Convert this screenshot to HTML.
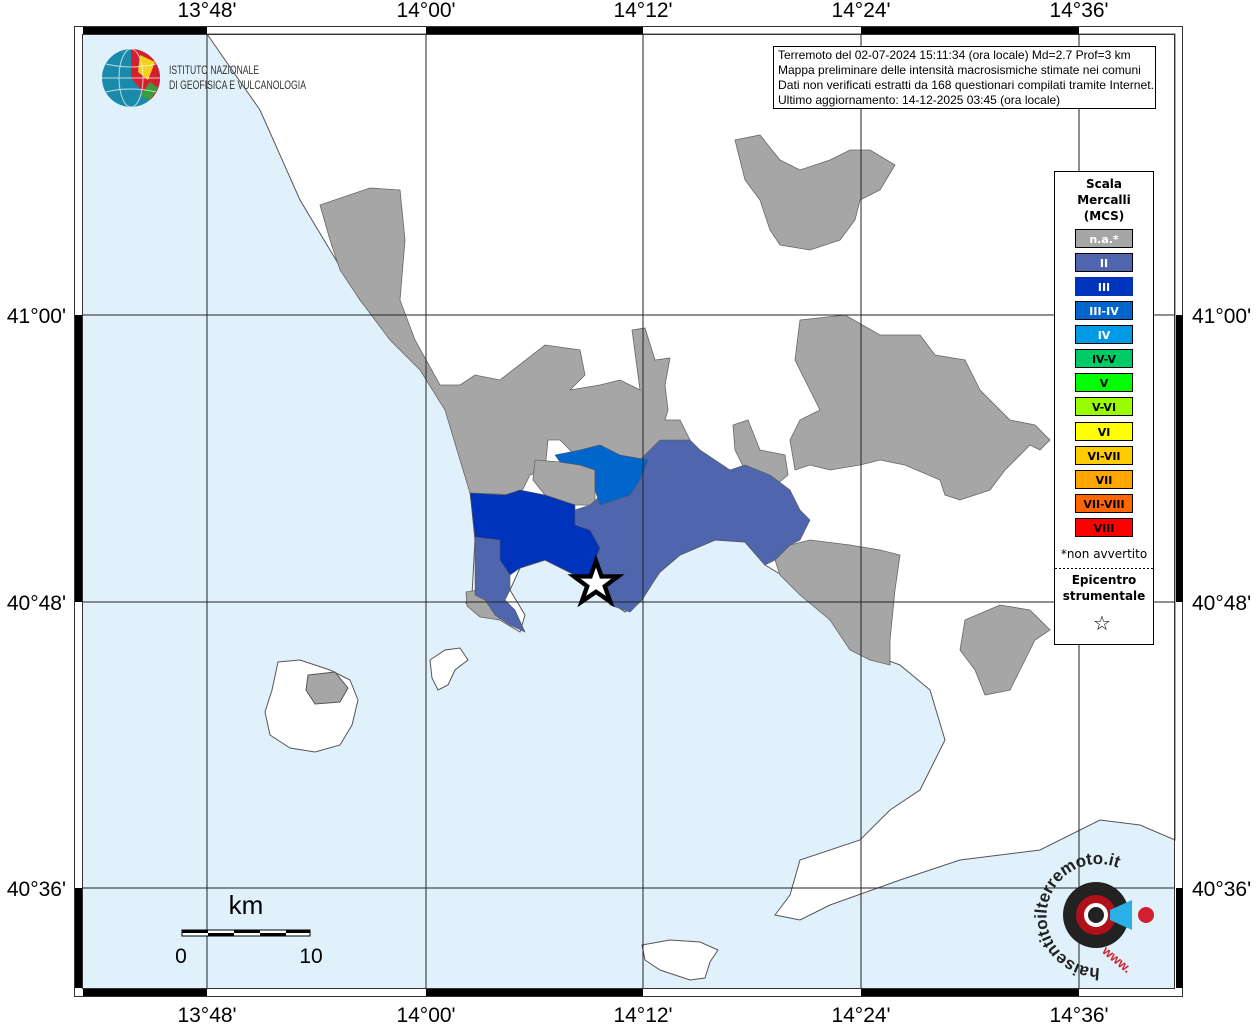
<!DOCTYPE html>
<html><head><meta charset="utf-8"><style>
body{margin:0;background:#fff;width:1256px;height:1024px;overflow:hidden;font-family:"Liberation Sans",sans-serif}
</style></head><body>
<svg width="1256" height="1024" viewBox="0 0 1256 1024" xmlns="http://www.w3.org/2000/svg" font-family="Liberation Sans, sans-serif">
<rect x="0" y="0" width="1256" height="1024" fill="#fff"/>
<rect x="82" y="34" width="1093" height="954" fill="#e0f1fc"/>
<path d="M207,34 L260,110 L300,200 L330,250 L360,300 L400,340 L440,390 L460,440 L470,490 L475,540 L472,595 L466,603 L480,615 L500,620 L520,632 L525,615 L510,590 L520,568 L545,560 L575,575 L595,580 L605,598 L625,612 L640,600 L660,572 L680,555 L715,540 L745,542 L765,565 L790,580 L800,590 L830,620 L860,650 L900,665 L930,690 L945,740 L920,790 L890,810 L860,840 L800,860 L790,895 L775,915 L800,920 L830,905 L900,880 L960,860 L1040,850 L1100,820 L1140,825 L1175,840 L1175,34 Z" fill="#fff" stroke="#555" stroke-width="1"/>
<path d="M278,662 L300,660 L330,670 L350,680 L358,700 L352,725 L340,745 L315,752 L290,748 L270,735 L265,712 L272,690 Z" fill="#fff" stroke="#555"/>
<path d="M308,675 L335,672 L348,688 L340,702 L315,704 L306,690 Z" fill="#a6a6a6" stroke="#555"/>
<path d="M430,660 L445,650 L460,648 L468,660 L455,670 L448,685 L438,690 L432,678 Z" fill="#fff" stroke="#555"/>
<path d="M642,945 L670,940 L700,942 L718,950 L710,962 L705,978 L690,980 L660,970 L645,960 Z" fill="#fff" stroke="#555"/>
<g fill="#a6a6a6" stroke="#666" stroke-width="0.8">
<path d="M320,205 L370,188 L400,190 L405,240 L400,300 L415,340 L440,385 L460,385 L475,375 L500,380 L545,345 L580,350 L585,375 L570,390 L600,385 L620,380 L640,390 L632,330 L645,328 L655,360 L670,358 L665,385 L668,410 L665,420 L680,420 L690,440 L650,460 L610,460 L575,455 L560,440 L548,440 L545,470 L530,475 L520,495 L470,493 L460,460 L445,410 L420,370 L390,340 L360,300 L340,270 L330,240 Z"/>
<path d="M800,320 L845,315 L880,335 L920,335 L935,355 L965,360 L980,390 L1010,420 L1035,425 L1050,440 L1040,450 L1030,445 L1005,470 L990,490 L960,500 L945,495 L940,480 L905,465 L880,460 L860,465 L830,470 L810,465 L795,470 L790,440 L800,420 L820,410 L810,390 L795,360 Z"/>
<path d="M735,140 L760,135 L780,160 L800,170 L830,160 L850,150 L870,150 L895,165 L880,190 L860,200 L855,220 L840,240 L810,250 L780,245 L770,230 L760,200 L745,180 Z"/>
<path d="M965,620 L1000,605 L1030,610 L1050,630 L1035,640 L1020,670 L1010,690 L985,695 L975,670 L960,650 Z"/>
<path d="M790,545 L810,540 L850,545 L880,550 L900,555 L895,590 L890,640 L890,665 L870,660 L850,650 L830,620 L800,595 L780,575 L775,560 Z"/>
<path d="M733,425 L748,420 L760,450 L785,455 L788,475 L770,490 L745,470 L735,450 Z"/>
<path d="M535,460 L560,462 L580,465 L595,470 L595,505 L575,505 L545,495 L533,480 Z"/>
<path d="M466,592 L478,590 L495,605 L500,620 L480,617 L467,606 Z"/>
</g>
<path d="M590,505 L640,460 L660,440 L690,440 L700,450 L715,460 L730,470 L745,465 L770,475 L790,490 L800,510 L810,520 L800,540 L790,545 L775,560 L765,565 L745,542 L715,540 L680,555 L660,572 L642,600 L630,612 L610,605 L600,590 L595,575 L595,560 L600,548 L590,530 L575,530 L575,510 Z" fill="#4f66ae" stroke="#555" stroke-width="0.6"/>
<path d="M475,537 L500,540 L500,560 L510,575 L510,590 L505,600 L515,610 L525,632 L510,625 L495,615 L485,600 L475,595 Z" fill="#4f66ae" stroke="#555" stroke-width="0.6"/>
<path d="M470,493 L505,495 L520,490 L545,495 L575,505 L575,525 L590,530 L600,548 L595,560 L595,575 L575,575 L545,560 L520,568 L510,575 L500,560 L500,540 L475,537 Z" fill="#0033bb" stroke="#555" stroke-width="0.6"/>
<path d="M555,455 L580,450 L600,445 L620,455 L648,460 L640,480 L630,495 L600,505 L595,490 L595,470 L580,465 L560,462 Z" fill="#0066cc" stroke="#555" stroke-width="0.6"/>
<g stroke="#222" stroke-width="1">
<line x1="207" y1="34" x2="207" y2="988"/><line x1="426" y1="34" x2="426" y2="988"/><line x1="643" y1="34" x2="643" y2="988"/><line x1="861" y1="34" x2="861" y2="988"/><line x1="1079" y1="34" x2="1079" y2="988"/>
<line x1="82" y1="315" x2="1175" y2="315"/><line x1="82" y1="602" x2="1175" y2="602"/><line x1="82" y1="888" x2="1175" y2="888"/>
</g>
<polygon points="596,563 601,577 616,577 604,586 609,600 596,591 583,600 588,586 576,577 591,577" fill="#fff" stroke="#000" stroke-width="4" transform="translate(596,583) scale(1.1) translate(-596,-583)"/>
<rect x="74.5" y="26.5" width="1108" height="970" fill="none" stroke="#333"/>
<rect x="82.5" y="34.5" width="1092" height="954" fill="none" stroke="#333"/>
<g fill="#000">
<rect x="83" y="27" width="124" height="7"/><rect x="426" y="27" width="217" height="7"/><rect x="861" y="27" width="218" height="7"/>
<rect x="83" y="989" width="124" height="7"/><rect x="426" y="989" width="217" height="7"/><rect x="861" y="989" width="218" height="7"/>
<rect x="75" y="315" width="7" height="287"/><rect x="75" y="888" width="7" height="100"/>
<rect x="1176" y="315" width="7" height="287"/><rect x="1176" y="888" width="7" height="100"/>
</g>
<g font-size="21" fill="#000" text-anchor="middle">
<text x="207" y="17">13°48'</text><text x="426" y="17">14°00'</text><text x="643" y="17">14°12'</text><text x="861" y="17">14°24'</text><text x="1079" y="17">14°36'</text>
<text x="207" y="1022">13°48'</text><text x="426" y="1022">14°00'</text><text x="643" y="1022">14°12'</text><text x="861" y="1022">14°24'</text><text x="1079" y="1022">14°36'</text>
</g>
<g font-size="21" fill="#000">
<text x="66" y="323" text-anchor="end">41°00'</text><text x="66" y="610" text-anchor="end">40°48'</text><text x="66" y="896" text-anchor="end">40°36'</text>
<text x="1192" y="323">41°00'</text><text x="1192" y="610">40°48'</text><text x="1192" y="896">40°36'</text>
</g>
<rect x="773.5" y="46.5" width="382" height="62" fill="#fff" stroke="#000"/>
<g font-size="12" fill="#000">
<text x="778" y="59">Terremoto del 02-07-2024 15:11:34 (ora locale) Md=2.7 Prof=3 km</text>
<text x="778" y="74">Mappa preliminare delle intensità macrosismiche stimate nei comuni</text>
<text x="778" y="89" textLength="376" lengthAdjust="spacingAndGlyphs">Dati non verificati estratti da 168 questionari compilati tramite Internet.</text>
<text x="778" y="104">Ultimo aggiornamento: 14-12-2025 03:45 (ora locale)</text>
</g>
<rect x="1054.5" y="171.5" width="99" height="473" fill="#fff" stroke="#000"/>
<g font-size="12" font-weight="bold" text-anchor="middle" font-family="DejaVu Sans, sans-serif">
<text x="1104" y="188">Scala</text><text x="1104" y="204">Mercalli</text><text x="1104" y="220">(MCS)</text>
</g>
<g font-size="11" font-weight="bold" text-anchor="middle" font-family="DejaVu Sans, sans-serif">
<rect x="1075.5" y="229.5" width="57" height="18" fill="#a6a6a6" stroke="#000"/><text x="1104" y="243" fill="#fff">n.a.*</text>
<rect x="1075.5" y="253.5" width="57" height="18" fill="#4f66ae" stroke="#000"/><text x="1104" y="267" fill="#fff">II</text>
<rect x="1075.5" y="277.5" width="57" height="18" fill="#0033bb" stroke="#0033bb"/><text x="1104" y="291" fill="#fff">III</text>
<rect x="1075.5" y="301.5" width="57" height="18" fill="#0066cc" stroke="#000"/><text x="1104" y="315" fill="#fff">III-IV</text>
<rect x="1075.5" y="325.5" width="57" height="18" fill="#0099e6" stroke="#000"/><text x="1104" y="339" fill="#fff">IV</text>
<rect x="1075.5" y="349.5" width="57" height="18" fill="#00cc66" stroke="#000"/><text x="1104" y="363" fill="#000">IV-V</text>
<rect x="1075.5" y="373.5" width="57" height="18" fill="#00ff00" stroke="#000"/><text x="1104" y="387" fill="#000">V</text>
<rect x="1075.5" y="397.5" width="57" height="18" fill="#99ff00" stroke="#000"/><text x="1104" y="411" fill="#000">V-VI</text>
<rect x="1075.5" y="422.5" width="57" height="18" fill="#ffff00" stroke="#000"/><text x="1104" y="436" fill="#000">VI</text>
<rect x="1075.5" y="446.5" width="57" height="18" fill="#ffcc00" stroke="#000"/><text x="1104" y="460" fill="#000">VI-VII</text>
<rect x="1075.5" y="470.5" width="57" height="18" fill="#ffa500" stroke="#000"/><text x="1104" y="484" fill="#000">VII</text>
<rect x="1075.5" y="494.5" width="57" height="18" fill="#ff6600" stroke="#000"/><text x="1104" y="508" fill="#000">VII-VIII</text>
<rect x="1075.5" y="518.5" width="57" height="18" fill="#ff0000" stroke="#000"/><text x="1104" y="532" fill="#000">VIII</text>
</g>
<text x="1104" y="558" font-size="12" text-anchor="middle" font-family="DejaVu Sans, sans-serif">*non avvertito</text>
<line x1="1055" y1="568.5" x2="1153" y2="568.5" stroke="#000" stroke-dasharray="2,2"/>
<g font-size="12" font-weight="bold" text-anchor="middle" font-family="DejaVu Sans, sans-serif">
<text x="1104" y="584">Epicentro</text><text x="1104" y="600">strumentale</text></g>
<text x="1102" y="630" font-size="20" text-anchor="middle" font-family="DejaVu Sans, sans-serif">☆</text>
<!-- INGV logo -->
<circle cx="131" cy="78" r="29" fill="#1a8aaa"/>
<path d="M131,49 A29,29 0 0 1 160,78 A29,29 0 0 1 150,100 L131,78 Z" fill="#d4202e"/>
<path d="M140,55 L155,62 L148,80 L138,72 Z" fill="#f2d21c"/>
<path d="M150,82 L158,88 L150,100 L140,96 Z" fill="#3a9c3a"/>
<g stroke="#fff" stroke-width="1" fill="none" opacity="0.7"><ellipse cx="131" cy="78" rx="12" ry="29"/><line x1="102" y1="78" x2="160" y2="78"/><path d="M106,64 Q131,70 156,64"/><path d="M106,92 Q131,86 156,92"/></g>
<text x="169" y="74" font-size="12" fill="#333" textLength="90" lengthAdjust="spacingAndGlyphs">ISTITUTO NAZIONALE</text>
<text x="169" y="89" font-size="12" fill="#333" textLength="137" lengthAdjust="spacingAndGlyphs">DI GEOFISICA E VULCANOLOGIA</text>
<text x="246" y="914" font-size="26" text-anchor="middle">km</text>
<rect x="182" y="930" width="128" height="6" fill="#fff" stroke="#000"/>
<rect x="182" y="930" width="26" height="3" fill="#000"/><rect x="234" y="930" width="26" height="3" fill="#000"/><rect x="286" y="930" width="24" height="3" fill="#000"/>
<rect x="208" y="933" width="26" height="3" fill="#000"/><rect x="260" y="933" width="26" height="3" fill="#000"/>
<text x="181" y="963" font-size="21" text-anchor="middle">0</text><text x="311" y="963" font-size="21" text-anchor="middle">10</text>
<!-- haisentito logo -->
<defs><path id="arc" d="M1100,968 A52,52 0 1 1 1148,900"/></defs>
<text font-size="17" fill="#222" font-weight="bold"><textPath href="#arc">haisentitoilterremoto.it</textPath></text>
<circle cx="1096" cy="915" r="33" fill="#222"/>
<circle cx="1096" cy="915" r="20" fill="#b0101a"/>
<circle cx="1096" cy="915" r="12" fill="#fff"/>
<circle cx="1096" cy="915" r="8" fill="#222"/>
<polygon points="1110,910 1132,900 1132,930 1110,920" fill="#2ab0e6"/>
<circle cx="1146" cy="915" r="8" fill="#d4202e"/>
<text x="1105" y="968" font-size="13" fill="#d4202e" font-weight="bold" transform="rotate(40 1125 955)">www.</text>
</svg>
</body></html>
